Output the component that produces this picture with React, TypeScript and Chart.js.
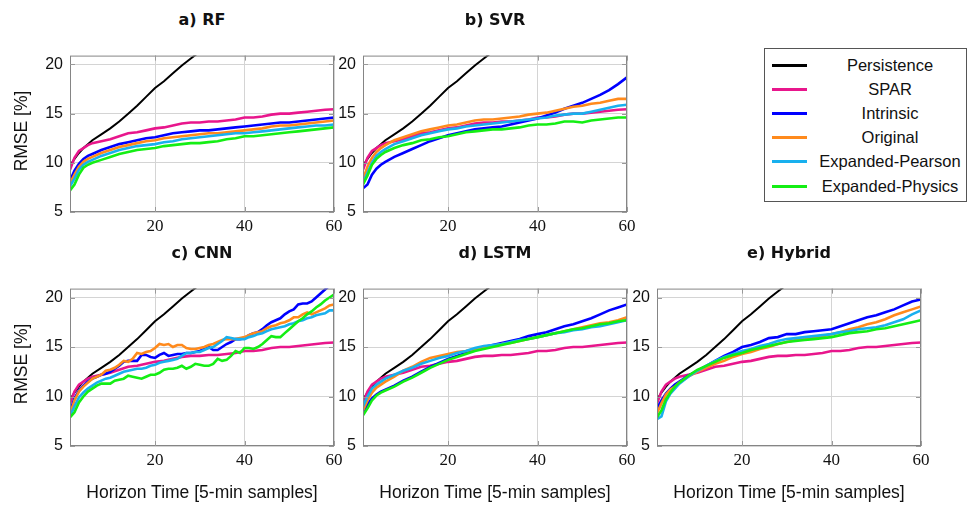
import React, { useEffect, useRef } from "react";
import { Chart, registerables } from "chart.js";
Chart.register(...registerables);

// ---------------- data ----------------
const X_STD = [1, 2, 3, 4, 5, 6, 8, 10, 12, 14, 16, 18, 20, 22, 24, 26, 28, 30, 32, 34, 36, 38, 40, 42, 44, 46, 48, 50, 52, 54, 56, 58, 60];
const X_PERS = [1, 2, 3, 4, 5, 6, 8, 10, 12, 14, 16, 18, 20, 22, 24, 26, 28, 30, 32];
const X_CNN = [1, 2, 3, 4, 5, 6, 7, 8, 9, 10, 11, 12, 13, 14, 15, 16, 17, 18, 19, 20, 21, 22, 23, 24, 25, 26, 27, 28, 29, 30, 31, 32, 33, 34, 35, 36, 37, 38, 39, 40, 41, 42, 43, 44, 45, 46, 47, 48, 49, 50, 51, 52, 53, 54, 55, 56, 57, 58, 59, 60];
const X_TICKS = [20, 40, 60];
const Y_TICKS = [5, 10, 15, 20];

const PERSISTENCE = [9.7, 10.4, 11.0, 11.5, 11.9, 12.3, 12.9, 13.5, 14.2, 15.0, 15.8, 16.7, 17.6, 18.3, 19.1, 19.9, 20.6, 21.3, 22.0];
const SPAR = [9.3, 10.5, 11.2, 11.5, 11.8, 12.0, 12.2, 12.4, 12.7, 13.0, 13.1, 13.3, 13.5, 13.6, 13.8, 14.0, 14.1, 14.1, 14.2, 14.2, 14.3, 14.4, 14.6, 14.6, 14.7, 14.9, 15.0, 15.0, 15.1, 15.2, 15.3, 15.4, 15.45];

// a) RF
const RF_INTRINSIC = [8.2, 9.2, 9.9, 10.4, 10.7, 10.9, 11.3, 11.6, 11.9, 12.1, 12.3, 12.5, 12.6, 12.8, 13.0, 13.1, 13.2, 13.3, 13.3, 13.4, 13.5, 13.6, 13.7, 13.8, 13.9, 14.0, 14.1, 14.1, 14.2, 14.3, 14.4, 14.5, 14.6];
const RF_ORIGINAL = [7.9, 8.8, 9.6, 10.1, 10.4, 10.6, 11.0, 11.3, 11.6, 11.8, 12.0, 12.2, 12.3, 12.5, 12.6, 12.7, 12.8, 12.9, 13.0, 13.0, 13.1, 13.2, 13.3, 13.4, 13.5, 13.7, 13.8, 13.8, 13.9, 14.0, 14.1, 14.2, 14.3];
const RF_PEARSON = [7.6, 8.4, 9.3, 9.8, 10.1, 10.3, 10.7, 11.0, 11.3, 11.5, 11.7, 11.8, 11.9, 12.1, 12.2, 12.4, 12.5, 12.6, 12.7, 12.8, 12.9, 13.0, 13.0, 13.1, 13.2, 13.3, 13.4, 13.5, 13.6, 13.7, 13.8, 13.8, 13.9];
const RF_PHYSICS = [7.2, 7.8, 8.8, 9.5, 9.8, 10.0, 10.3, 10.6, 10.9, 11.1, 11.3, 11.4, 11.5, 11.7, 11.8, 11.9, 12.0, 12.0, 12.1, 12.2, 12.4, 12.5, 12.7, 12.7, 12.8, 12.9, 13.0, 13.1, 13.2, 13.3, 13.4, 13.5, 13.6];

// b) SVR
const SVR_INTRINSIC = [7.4, 7.8, 8.8, 9.4, 9.8, 10.1, 10.6, 11.0, 11.4, 11.8, 12.2, 12.5, 12.8, 13.0, 13.2, 13.4, 13.5, 13.6, 13.7, 13.9, 14.1, 14.3, 14.5, 14.8, 15.1, 15.5, 15.8, 16.1, 16.5, 16.9, 17.4, 18.0, 18.7];
const SVR_ORIGINAL = [8.3, 9.6, 10.5, 11.1, 11.5, 11.8, 12.3, 12.6, 12.9, 13.2, 13.4, 13.6, 13.8, 13.9, 14.1, 14.3, 14.4, 14.4, 14.5, 14.6, 14.7, 14.9, 15.0, 15.1, 15.3, 15.5, 15.7, 15.8, 16.0, 16.1, 16.3, 16.5, 16.5];
const SVR_PEARSON = [7.9, 9.0, 10.0, 10.7, 11.1, 11.4, 11.9, 12.2, 12.5, 12.8, 13.0, 13.2, 13.4, 13.5, 13.7, 13.8, 13.9, 14.0, 14.1, 14.2, 14.3, 14.4, 14.5, 14.6, 14.8, 14.9, 15.0, 15.0, 15.2, 15.4, 15.6, 15.8, 15.9];
const SVR_PHYSICS = [7.8, 8.7, 9.8, 10.4, 10.8, 11.1, 11.5, 11.8, 12.0, 12.3, 12.4, 12.6, 12.7, 12.9, 13.1, 13.2, 13.3, 13.4, 13.4, 13.5, 13.6, 13.8, 13.9, 13.9, 14.0, 14.2, 14.2, 14.1, 14.3, 14.4, 14.5, 14.6, 14.6];

// c) CNN
const CNN_INTRINSIC = [8.5, 9.8, 10.6, 11.1, 11.5, 11.8, 12.0, 12.2, 12.3, 12.5, 12.8, 13.1, 13.5, 13.6, 13.6, 13.6, 14.2, 14.2, 14.0, 13.9, 14.2, 14.4, 14.1, 14.2, 14.3, 14.3, 14.4, 14.4, 14.5, 14.6, 14.8, 15.0, 14.7, 14.7, 15.0, 15.3, 15.5, 15.8, 15.8, 15.9, 16.2, 16.4, 16.5, 16.8, 17.2, 17.5, 17.7, 17.9, 18.3, 18.6, 18.8, 19.3, 19.4, 19.4, 19.6, 20.0, 20.4, 20.8, 21.2, 21.5];
const CNN_ORIGINAL = [8.2, 9.6, 10.5, 11.0, 11.4, 11.8, 12.0, 12.2, 12.6, 12.7, 12.9, 13.2, 13.6, 13.5, 13.8, 14.4, 14.3, 14.5, 14.6, 14.9, 15.3, 15.2, 15.3, 15.0, 15.2, 15.2, 14.9, 14.8, 14.8, 14.9, 15.0, 15.2, 15.3, 15.5, 15.7, 15.8, 15.8, 15.8, 15.9, 16.0, 16.2, 16.4, 16.5, 16.6, 16.9, 17.1, 17.2, 17.4, 17.5, 17.7, 18.0, 18.0, 18.3, 18.5, 18.3, 18.5, 18.7, 18.9, 19.2, 19.3];
const CNN_PEARSON = [8.0, 9.0, 9.9, 10.4, 10.8, 11.1, 11.4, 11.6, 11.8, 11.9, 12.1, 12.3, 12.5, 12.6, 12.7, 12.8, 12.8, 12.9, 13.1, 13.2, 13.4, 13.5, 13.6, 13.7, 13.8, 14.1, 14.4, 14.4, 14.5, 14.5, 14.7, 14.9, 15.0, 15.3, 15.6, 16.0, 15.9, 15.8, 15.8, 15.8, 16.0, 16.1, 16.3, 16.4, 16.6, 16.8, 16.9, 17.0, 17.1, 17.3, 17.4, 17.6, 17.7, 17.9, 18.0, 18.2, 18.3, 18.4, 18.7, 18.7];
const CNN_PHYSICS = [7.9, 8.4, 9.4, 10.0, 10.5, 10.8, 11.1, 11.3, 11.3, 11.3, 11.6, 11.7, 11.8, 12.1, 12.0, 11.9, 11.8, 12.0, 12.2, 12.2, 12.4, 12.7, 12.8, 12.8, 12.9, 13.1, 12.8, 13.0, 13.3, 13.2, 13.1, 13.1, 13.3, 13.8, 13.6, 13.7, 14.1, 14.6, 14.4, 14.9, 14.9, 14.8, 15.0, 15.3, 15.7, 16.1, 16.0, 16.0, 16.4, 16.8, 17.2, 17.6, 17.9, 18.3, 18.6, 19.0, 19.3, 19.7, 20.0, 20.3];

// d) LSTM
const LSTM_INTRINSIC = [8.4, 9.2, 9.8, 10.2, 10.5, 10.7, 11.1, 11.6, 12.0, 12.5, 13.0, 13.4, 13.8, 14.1, 14.4, 14.8, 15.0, 15.2, 15.4, 15.6, 15.8, 16.1, 16.3, 16.5, 16.8, 17.1, 17.3, 17.6, 17.9, 18.3, 18.7, 19.0, 19.3];
const LSTM_ORIGINAL = [8.6, 9.6, 10.4, 10.9, 11.2, 11.5, 12.0, 12.6, 13.0, 13.5, 13.9, 14.1, 14.3, 14.5, 14.6, 14.8, 15.0, 15.1, 15.3, 15.4, 15.6, 15.8, 16.0, 16.2, 16.4, 16.6, 16.8, 17.0, 17.2, 17.4, 17.5, 17.7, 18.0];
const LSTM_PEARSON = [9.0, 10.0, 10.8, 11.2, 11.5, 11.8, 12.2, 12.6, 12.9, 13.3, 13.6, 13.9, 14.1, 14.4, 14.6, 14.9, 15.1, 15.2, 15.3, 15.5, 15.7, 15.8, 16.0, 16.2, 16.4, 16.5, 16.7, 16.8, 17.0, 17.1, 17.3, 17.5, 17.7];
const LSTM_PHYSICS = [8.1, 8.8, 9.6, 10.1, 10.4, 10.6, 11.0, 11.5, 11.9, 12.4, 12.9, 13.3, 13.7, 14.0, 14.3, 14.6, 14.8, 15.0, 15.2, 15.4, 15.6, 15.8, 16.0, 16.2, 16.4, 16.6, 16.8, 16.9, 17.1, 17.3, 17.4, 17.6, 17.7];

// e) Hybrid
const HYB_INTRINSIC = [8.8, 9.6, 10.3, 10.8, 11.2, 11.5, 12.1, 12.6, 13.1, 13.6, 14.1, 14.5, 15.0, 15.2, 15.5, 15.9, 16.0, 16.3, 16.3, 16.5, 16.6, 16.7, 16.8, 17.1, 17.4, 17.7, 18.0, 18.2, 18.5, 18.8, 19.2, 19.6, 19.8];
const HYB_ORIGINAL = [8.3, 9.3, 10.2, 10.7, 11.0, 11.4, 12.0, 12.5, 12.9, 13.3, 13.6, 14.0, 14.3, 14.5, 14.8, 15.0, 15.3, 15.5, 15.7, 15.8, 15.9, 16.1, 16.3, 16.5, 16.8, 17.0, 17.3, 17.5, 17.8, 18.2, 18.5, 18.8, 19.1];
const HYB_PEARSON = [7.7, 8.0, 9.5, 10.3, 10.8, 11.3, 12.0, 12.6, 13.1, 13.6, 14.0, 14.3, 14.6, 14.8, 15.1, 15.3, 15.6, 15.8, 15.9, 16.0, 16.1, 16.2, 16.3, 16.5, 16.6, 16.8, 16.9, 17.0, 17.2, 17.5, 17.8, 18.3, 18.7];
const HYB_PHYSICS = [7.9, 8.6, 9.7, 10.4, 11.0, 11.4, 12.1, 12.7, 13.1, 13.5, 13.9, 14.2, 14.4, 14.7, 14.9, 15.1, 15.3, 15.5, 15.6, 15.7, 15.8, 15.9, 16.0, 16.2, 16.4, 16.5, 16.6, 16.8, 16.9, 17.1, 17.3, 17.5, 17.7];

const SERIES_NAMES = ["Persistence", "SPAR", "Intrinsic", "Original", "Expanded-Pearson", "Expanded-Physics"];
const SERIES_COLORS = ["#000000", "#e8168c", "#0000ff", "#ff8a1c", "#18b0ee", "#14ee14"];

// ---------------- layout ----------------
const PAD_L = 50;
const PAD_T = 10;
const PAD_R = 20;
const PAD_B = 40;

type PanelDef = {
  title: string;
  left: number;
  top: number;
  width: number;
  height: number;
  xs: number[];
  models: number[][]; // intrinsic, original, pearson, physics
  yTitle: boolean;
};

const PANELS: PanelDef[] = [
  { title: "a) RF", left: 70, top: 49, width: 264, height: 163, xs: X_STD, models: [RF_INTRINSIC, RF_ORIGINAL, RF_PEARSON, RF_PHYSICS], yTitle: true },
  { title: "b) SVR", left: 363, top: 49, width: 264, height: 163, xs: X_STD, models: [SVR_INTRINSIC, SVR_ORIGINAL, SVR_PEARSON, SVR_PHYSICS], yTitle: false },
  { title: "c) CNN", left: 70, top: 282, width: 264, height: 164, xs: X_CNN, models: [CNN_INTRINSIC, CNN_ORIGINAL, CNN_PEARSON, CNN_PHYSICS], yTitle: true },
  { title: "d) LSTM", left: 363, top: 282, width: 264, height: 164, xs: X_STD, models: [LSTM_INTRINSIC, LSTM_ORIGINAL, LSTM_PEARSON, LSTM_PHYSICS], yTitle: false },
  { title: "e) Hybrid", left: 657, top: 282, width: 264, height: 164, xs: X_STD, models: [HYB_INTRINSIC, HYB_ORIGINAL, HYB_PEARSON, HYB_PHYSICS], yTitle: false },
];

const toPts = (xs: number[], ys: number[]) => ys.map((y, i) => ({ x: xs[i], y }));

const framePlugin = {
  id: "frame",
  afterDatasetsDraw(chart: any) {
    const { ctx, chartArea } = chart;
    const { left, top, right, bottom } = chartArea;
    const xs = chart.scales.x;
    const ys = chart.scales.y;
    ctx.save();
    ctx.strokeStyle = "#858585";
    ctx.lineWidth = 1;
    ctx.strokeRect(left + 0.5, top + 0.5, right - left - 1, bottom - top - 1);
    ctx.strokeStyle = "#999999";
    const L = 5;
    ctx.beginPath();
    X_TICKS.forEach((v) => {
      const px = Math.round(xs.getPixelForValue(v)) + 0.5;
      ctx.moveTo(px, bottom);
      ctx.lineTo(px, bottom - L);
      ctx.moveTo(px, top);
      ctx.lineTo(px, top + L);
    });
    Y_TICKS.forEach((v) => {
      const py = Math.round(ys.getPixelForValue(v)) + 0.5;
      ctx.moveTo(left, py);
      ctx.lineTo(left + L, py);
      ctx.moveTo(right, py);
      ctx.lineTo(right - L, py);
    });
    ctx.stroke();
    ctx.restore();
  },
};

function PanelChart({ p }: { p: PanelDef }) {
  const ref = useRef<HTMLCanvasElement>(null);
  const cw = p.width + PAD_L + PAD_R;
  const ch = p.height + PAD_T + PAD_B;
  useEffect(() => {
    if (!ref.current) return;
    const lines = [
      { xs: X_PERS, ys: PERSISTENCE },
      { xs: X_STD, ys: SPAR },
      { xs: p.xs, ys: p.models[0] },
      { xs: p.xs, ys: p.models[1] },
      { xs: p.xs, ys: p.models[2] },
      { xs: p.xs, ys: p.models[3] },
    ];
    const datasets = lines
      .map((l, i) => ({
        label: SERIES_NAMES[i],
        data: toPts(l.xs, l.ys),
        borderColor: SERIES_COLORS[i],
        backgroundColor: SERIES_COLORS[i],
        borderWidth: i === 0 ? 2 : 2.6,
        pointRadius: 0,
        tension: 0,
        fill: false,
      }))
      .reverse();
    const chart = new Chart(ref.current, {
      type: "line",
      data: { datasets },
      options: {
        animation: false,
        responsive: false,
        devicePixelRatio: 1,
        layout: { padding: { top: PAD_T, right: PAD_R, left: 0, bottom: 0 } },
        plugins: { legend: { display: false }, tooltip: { enabled: false }, title: { display: false } },
        scales: {
          x: {
            type: "linear",
            min: 1,
            max: 60,
            afterBuildTicks: (s: any) => {
              s.ticks = X_TICKS.map((v) => ({ value: v }));
            },
            afterFit: (s: any) => {
              s.height = PAD_B;
            },
            grid: { color: "#d4d4d4", drawTicks: false, lineWidth: 1 },
            border: { display: false },
            ticks: { font: { family: "Liberation Serif", size: 17 }, color: "#111", padding: 4, maxRotation: 0, autoSkip: false },
          },
          y: {
            type: "linear",
            min: 5,
            max: 20.9,
            afterBuildTicks: (s: any) => {
              s.ticks = Y_TICKS.map((v) => ({ value: v }));
            },
            afterFit: (s: any) => {
              s.width = PAD_L;
            },
            grid: { color: "#d4d4d4", drawTicks: false, lineWidth: 1 },
            border: { display: false },
            ticks: { font: { family: "Liberation Sans", size: 16 }, color: "#111", padding: 7, autoSkip: false },
          },
        },
      } as any,
      plugins: [framePlugin],
    });
    return () => chart.destroy();
  }, [p]);
  return (
    <canvas
      ref={ref}
      width={cw}
      height={ch}
      style={{ position: "absolute", left: p.left - PAD_L, top: p.top - PAD_T, width: cw, height: ch }}
    />
  );
}

function Label({ x, y, text, font, rotate }: { x: number; y: number; text: string; font: string; rotate?: boolean }) {
  return (
    <div
      style={{
        position: "absolute",
        left: x,
        top: y,
        transform: `translate(-50%, -50%)${rotate ? " rotate(-90deg)" : ""}`,
        whiteSpace: "nowrap",
        font,
        lineHeight: 1,
        color: "#111",
      }}
    >
      {text}
    </div>
  );
}

const TITLE_FONT = "bold 16px 'DejaVu Sans'";
const AXIS_FONT = "17.5px 'Liberation Sans'";
const LEGEND_FONT = "16.5px 'Liberation Sans'";

export default function App() {
  const legendRows = [65, 89, 113, 137, 161, 186];
  return (
    <div style={{ position: "absolute", left: 0, top: 0, width: 968, height: 506, background: "#fff", overflow: "hidden" }}>
      {PANELS.map((p) => (
        <PanelChart key={p.title} p={p} />
      ))}
      {PANELS.map((p) => (
        <Label key={"t" + p.title} x={p.left + p.width / 2} y={p.top < 100 ? 20 : 253} text={p.title} font={TITLE_FONT} />
      ))}
      {PANELS.filter((p) => p.top > 100).map((p) => (
        <Label key={"x" + p.title} x={p.left + p.width / 2} y={493} text="Horizon Time [5-min samples]" font={AXIS_FONT} />
      ))}
      {PANELS.filter((p) => p.yTitle).map((p) => (
        <Label key={"y" + p.title} x={22} y={p.top + p.height / 2} text="RMSE [%]" font={AXIS_FONT} rotate />
      ))}
      <div
        style={{
          position: "absolute",
          left: 764,
          top: 48,
          width: 203,
          height: 154,
          border: "1px solid #555",
          boxSizing: "border-box",
          background: "#fff",
        }}
      />
      {SERIES_NAMES.map((name, i) => (
        <React.Fragment key={name}>
          <div
            style={{
              position: "absolute",
              left: 772,
              top: legendRows[i] - 1.5,
              width: 35,
              height: 3,
              background: SERIES_COLORS[i],
            }}
          />
          <Label x={890} y={legendRows[i]} text={name} font={LEGEND_FONT} />
        </React.Fragment>
      ))}
    </div>
  );
}
